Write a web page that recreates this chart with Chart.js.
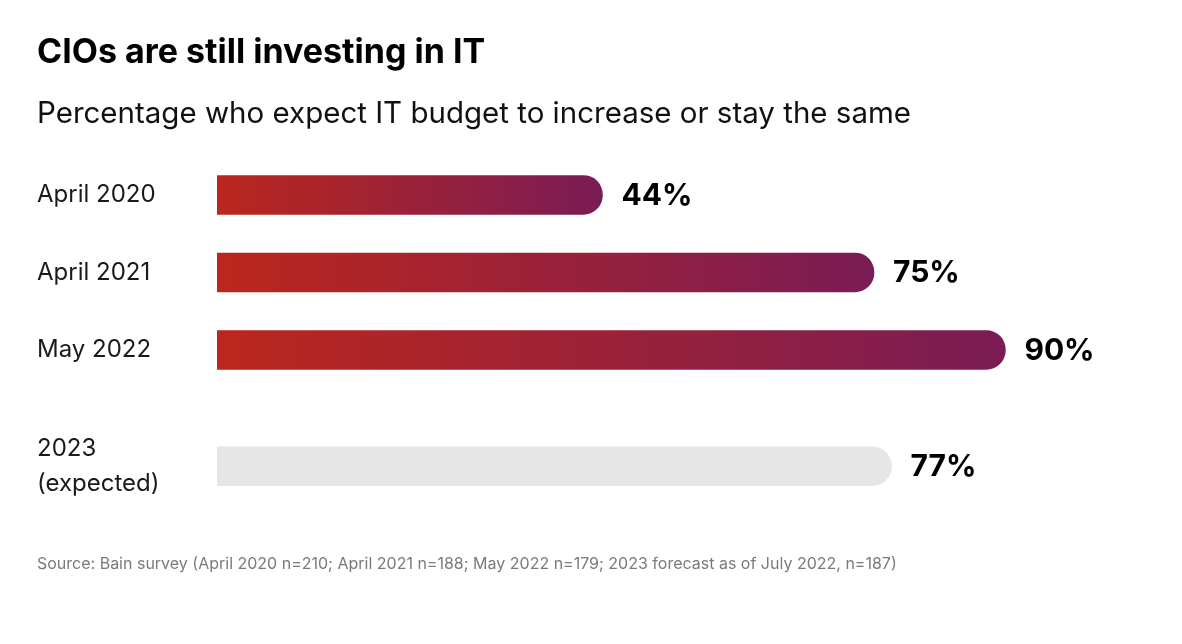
<!DOCTYPE html>
<html lang="en">
  <head>
    <meta charset="UTF-8" />
    <title>CIOs are still investing in IT</title>
    <style>
      html, body { margin: 0; padding: 0; background: #fff; }
      .wrap { width: 1182px; height: 644px; }
    </style>
  </head>
  <body>
    <div class="wrap"><canvas id="myChart"></canvas></div>
    <script src="https://cdn.jsdelivr.net/npm/chart.js"></script>
    <script>
      // data
      const categories = ["April 2020", "April 2021", "May 2022", ["2023", "(expected)"]];
      const values = [44, 75, 90, 77];
      const expected = [false, false, false, true];
      const sourceText = "Source: Bain survey (April 2020 n=210; April 2021 n=188; May 2022 n=179; 2023 forecast as of July 2022, n=187)";

      // the forecast row sits a bit further down
      const slots = categories.map((c, i) => (expected[i] ? i + 0.5 : i));

      const fontFamily = "Inter, 'Noto Sans', sans-serif";

      function barColor(ctx) {
        const i = ctx.dataIndex;
        if (expected[i]) return "#e6e6e6";
        const chart = ctx.chart;
        const x = chart.scales.x;
        if (!x || !chart.chartArea) return "#a0222f";
        const x0 = x.getPixelForValue(0);
        const x1 = x.getPixelForValue(values[i]);
        const g = chart.ctx.createLinearGradient(x0, 0, x1, 0);
        g.addColorStop(0, "#bb271c");
        g.addColorStop(1, "#7a1c55");
        return g;
      }

      const valueLabels = {
        id: "valueLabels",
        afterDatasetsDraw(chart) {
          const ctx = chart.ctx;
          const meta = chart.getDatasetMeta(0);
          ctx.save();
          ctx.font = "bold 30px " + fontFamily;
          ctx.fillStyle = "#000";
          ctx.textBaseline = "middle";
          ctx.textAlign = "left";
          meta.data.forEach((bar, i) => {
            ctx.fillText(values[i] + "%", bar.x + 19, bar.y + 1);
          });
          ctx.restore();
        },
      };

      const sourceNote = {
        id: "sourceNote",
        afterDraw(chart) {
          const ctx = chart.ctx;
          ctx.save();
          ctx.font = "16px " + fontFamily;
          ctx.fillStyle = "#7a7a7a";
          ctx.textBaseline = "middle";
          ctx.fillText(sourceText, 37, 564);
          ctx.restore();
        },
      };

      const data = {
        datasets: [
          {
            data: values.map((v, i) => ({ x: v, y: slots[i] })),
            backgroundColor: barColor,
            borderWidth: 0,
            borderRadius: { topLeft: 0, bottomLeft: 0, topRight: 20, bottomRight: 20 },
            borderSkipped: false,
            barThickness: 39,
          },
        ],
      };

      const config = {
        type: "bar",
        data,
        options: {
          indexAxis: "y",
          responsive: false,
          animation: false,
          layout: { padding: { left: 37, right: 89, top: 0, bottom: 139 } },
          scales: {
            x: { type: "linear", min: 0, max: 100, display: false },
            y: {
              type: "linear",
              reverse: true,
              offset: false,
              min: -0.5,
              max: 4,
              grid: { display: false },
              border: { display: false },
              afterBuildTicks: (axis) => {
                axis.ticks = slots.map((v) => ({ value: v }));
              },
              afterFit: (axis) => {
                axis.width = 180;
                axis.paddingTop = 0;
                axis.paddingBottom = 0;
              },
              ticks: {
                crossAlign: "far",
                color: "#1a1a1a",
                font: { family: fontFamily, size: 24, lineHeight: 1.42 },
                callback: (v) => {
                  const i = slots.indexOf(v);
                  return i >= 0 ? categories[i] : "";
                },
              },
            },
          },
          plugins: {
            legend: { display: false },
            tooltip: { enabled: false },
            title: {
              display: true,
              text: "CIOs are still investing in IT",
              align: "start",
              color: "#000",
              font: { family: fontFamily, size: 34, weight: "bold", lineHeight: 1.2 },
              padding: { top: 32, bottom: 0 },
            },
            subtitle: {
              display: true,
              text: "Percentage who expect IT budget to increase or stay the same",
              align: "start",
              color: "#111",
              font: { family: fontFamily, size: 29.5, lineHeight: 1.2 },
              padding: { top: 24, bottom: 24 },
            },
          },
        },
        plugins: [valueLabels, sourceNote],
      };

      const canvas = document.getElementById("myChart");
      canvas.width = 1182;
      canvas.height = 644;
      new Chart(canvas, config);
    </script>
  </body>
</html>
